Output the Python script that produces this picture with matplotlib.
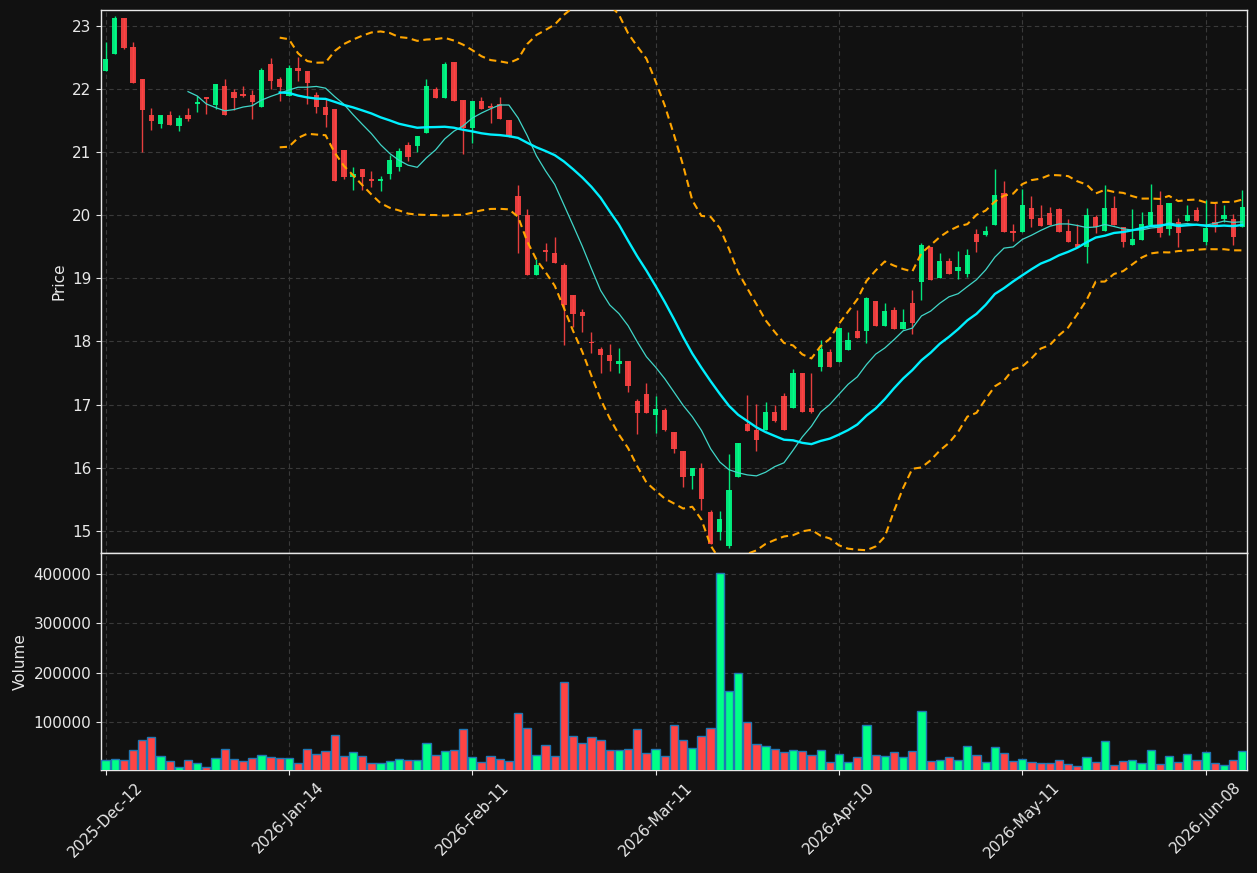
import numpy as np
import pandas as pd
import matplotlib
matplotlib.use("Agg")
import matplotlib.pyplot as plt

# ---------------- data ----------------
opens = [22.29, 22.56, 23.12, 22.67, 22.16, 21.585, 21.44, 21.585, 21.42, 21.59,
         21.77, 21.875, 21.75, 22.05, 21.955, 21.92, 21.90, 21.72, 22.40, 22.16,
         21.89, 22.33, 22.29, 21.91, 21.71, 21.685, 21.035, 20.60, 20.73, 20.575,
         20.54, 20.66, 20.77, 21.11, 21.10, 21.31, 22.00, 21.86, 22.43, 21.83,
         21.39, 21.81, 21.73, 21.76, 21.51, 20.31, 20.00, 19.055, 19.455, 19.40,
         19.21, 18.74, 18.46, 17.99, 17.88, 17.786, 17.648, 17.69, 17.057, 17.168,
         16.835, 16.914, 16.566, 16.265, 15.873, 15.995, 15.30, 14.986, 14.76, 15.857,
         16.693, 16.597, 16.60, 16.883, 17.136, 16.95, 17.50, 16.946, 17.60, 17.83,
         17.68, 17.86, 18.166, 18.166, 18.642, 18.25, 18.50, 18.198, 18.605, 18.948,
         19.49, 19.01, 19.276, 19.117, 19.075, 19.70, 19.69, 19.846, 20.35, 19.75,
         19.74, 20.12, 19.957, 20.04, 20.10, 19.75, 19.545, 19.50, 19.98, 19.756,
         20.116, 19.81, 19.53, 19.608, 19.846, 20.163, 19.79, 19.894, 19.914, 20.084,
         19.58, 19.90, 19.946, 19.936, 19.82]
highs = [22.75, 23.16, 23.13, 22.75, 22.16, 21.70, 21.585, 21.66, 21.585, 21.70,
         21.89, 21.875, 22.08, 22.16, 22.01, 22.05, 21.99, 22.33, 22.49, 22.20,
         22.39, 22.51, 22.29, 21.96, 21.84, 21.685, 21.035, 20.76, 20.73, 20.70,
         20.62, 20.96, 21.06, 21.16, 21.25, 22.155, 22.04, 22.43, 22.43, 21.83,
         21.82, 21.88, 21.775, 21.88, 21.51, 20.48, 20.10, 19.30, 19.56, 19.65,
         19.25, 18.74, 18.51, 18.15, 17.91, 17.96, 17.89, 17.69, 17.084, 17.347,
         17.136, 16.95, 16.566, 16.265, 15.995, 16.07, 15.33, 15.314, 16.217, 16.39,
         17.152, 17.01, 17.04, 16.99, 17.18, 17.56, 17.50, 17.496, 18.02, 17.876,
         18.22, 18.155, 18.50, 18.70, 18.642, 18.605, 18.54, 18.515, 18.816, 19.56,
         19.49, 19.40, 19.33, 19.434, 19.46, 19.79, 19.83, 20.73, 20.55, 19.86,
         20.41, 20.306, 20.16, 20.127, 20.116, 19.936, 19.87, 20.11, 20.00, 20.48,
         20.306, 19.81, 20.095, 20.05, 20.496, 20.38, 20.19, 19.95, 20.17, 20.127,
         20.25, 20.19, 20.16, 20.02, 20.40]
lows = [22.28, 22.55, 22.64, 22.10, 21.00, 21.35, 21.38, 21.43, 21.34, 21.49,
        21.63, 21.60, 21.68, 21.59, 21.67, 21.87, 21.52, 21.72, 22.00, 21.82,
        21.89, 22.13, 21.77, 21.62, 21.40, 20.55, 20.57, 20.40, 20.40, 20.45,
        20.38, 20.58, 20.70, 20.86, 21.00, 21.31, 21.86, 21.86, 21.82, 20.97,
        21.14, 21.68, 21.47, 21.53, 21.24, 19.40, 19.055, 19.055, 19.27, 19.24,
        17.94, 18.23, 18.15, 17.81, 17.50, 17.54, 17.50, 17.205, 16.53, 16.867,
        16.555, 16.58, 16.238, 15.70, 15.667, 15.335, 14.79, 14.85, 14.72, 15.857,
        16.587, 16.27, 16.60, 16.72, 16.60, 16.95, 16.89, 16.86, 17.54, 17.60,
        17.68, 17.86, 18.06, 17.97, 18.25, 18.25, 18.198, 18.198, 18.114, 18.66,
        18.975, 19.01, 19.075, 18.99, 19.017, 19.42, 19.67, 19.846, 19.74, 19.59,
        19.74, 19.82, 19.835, 19.846, 19.74, 19.58, 19.50, 19.25, 19.72, 19.756,
        19.846, 19.50, 19.53, 19.608, 19.846, 19.65, 19.69, 19.50, 19.914, 19.914,
        19.53, 19.74, 19.90, 19.53, 19.82]
closes = [22.48, 23.12, 22.66, 22.10, 21.67, 21.49, 21.585, 21.43, 21.54, 21.53,
          21.80, 21.85, 22.08, 21.59, 21.865, 21.895, 21.80, 22.30, 22.13, 22.03,
          22.33, 22.28, 22.09, 21.71, 21.59, 20.55, 20.60, 20.655, 20.60, 20.55,
          20.575, 20.88, 21.02, 20.93, 21.25, 22.05, 21.86, 22.40, 21.82, 21.39,
          21.81, 21.68, 21.70, 21.53, 21.24, 20.005, 19.055, 19.21, 19.42, 19.24,
          18.58, 18.43, 18.40, 17.97, 17.79, 17.69, 17.69, 17.295, 16.867, 16.867,
          16.93, 16.597, 16.30, 15.857, 15.995, 15.504, 14.79, 15.187, 15.647, 16.39,
          16.587, 16.44, 16.883, 16.745, 16.60, 17.50, 16.89, 16.89, 17.876, 17.60,
          18.21, 18.024, 18.06, 18.69, 18.25, 18.483, 18.198, 18.304, 18.30, 19.53,
          18.975, 19.276, 19.075, 19.185, 19.37, 19.58, 19.75, 20.32, 19.74, 19.72,
          20.163, 19.94, 19.835, 19.846, 19.74, 19.58, 19.50, 20.005, 19.82, 20.116,
          19.846, 19.58, 19.624, 19.862, 20.05, 19.72, 20.19, 19.715, 20.00, 19.914,
          19.794, 19.846, 20.00, 19.66, 20.127]
volumes_k = [23.6, 25.7, 23.6, 43.9, 64.2, 69.6, 31.1, 21.6, 8.8, 23.0,
             16.9, 8.8, 27.0, 45.3, 25.0, 21.6, 27.0, 33.1, 29.1, 27.0,
             27.0, 16.9, 45.3, 35.8, 41.2, 73.6, 31.1, 39.2, 31.1, 16.9,
             16.9, 20.9, 25.0, 23.0, 23.0, 57.4, 33.1, 41.2, 43.2, 85.8,
             29.1, 18.9, 31.1, 25.0, 20.9, 118.0, 87.8, 33.1, 53.4, 31.1,
             181.0, 71.6, 57.4, 69.6, 63.5, 43.2, 43.2, 45.3, 85.8, 37.2,
             45.3, 31.1, 93.9, 63.5, 47.3, 71.6, 87.8, 402.0, 162.8, 199.3,
             100.0, 55.4, 51.4, 45.3, 39.2, 43.2, 41.2, 33.1, 43.2, 18.9,
             35.1, 18.9, 29.1, 93.9, 33.1, 31.1, 39.2, 29.1, 41.2, 122.3,
             20.9, 23.0, 29.1, 23.0, 51.4, 33.1, 18.9, 49.3, 37.2, 20.9,
             25.0, 18.9, 16.9, 16.9, 23.0, 14.9, 10.8, 29.1, 18.9, 61.5,
             12.8, 20.9, 23.0, 16.9, 43.2, 14.9, 31.1, 18.9, 35.1, 23.0,
             39.2, 16.9, 12.8, 23.0, 41.2]
tick_labels = ["2025-Dec-12", "2026-Jan-14", "2026-Feb-11", "2026-Mar-11",
               "2026-Apr-10", "2026-May-11", "2026-Jun-08"]

# ---------------- style ----------------
BG = "#111111"
UP = "#00ff88"
DOWN = "#ff4444"
TXT = "#e8e8e8"
GRID = "#3a3a3a"

o = np.array(opens); h = np.array(highs); l = np.array(lows); c = np.array(closes)
v = np.array(volumes_k) * 1000.0
n = len(c)
x = np.arange(n)
up = c >= o
cols = np.where(up, UP, DOWN)

close_s = pd.Series(c)
mav10 = close_s.rolling(10).mean()
mav20 = close_s.rolling(20).mean()
std20 = close_s.rolling(20).std()
bb_up = mav20 + 2 * std20
bb_dn = mav20 - 2 * std20

fig = plt.figure(figsize=(12.57, 8.73), dpi=100, facecolor=BG)
ax = fig.add_axes([0.0803, 0.3666, 0.9117, 0.6219], facecolor=BG)
axv = fig.add_axes([0.0803, 0.1180, 0.9117, 0.2486], facecolor=BG, sharex=ax)

# candles
ax.vlines(x, l, h, colors=cols, linewidth=1.0, alpha=0.9, zorder=2)
body_bot = np.minimum(o, c)
body_h = np.maximum(np.abs(c - o), 0.012)
ax.bar(x, body_h, bottom=body_bot, width=0.58, color=cols, alpha=0.9,
       linewidth=0, zorder=3)

# moving averages & bands
ax.plot(x, mav10, color="#40d6c8", linewidth=0.9, zorder=4)
ax.plot(x, mav20, color="#00f0ff", linewidth=1.7, zorder=4)
ax.plot(x, bb_up, color="#ffa500", linewidth=1.5, linestyle=(0, (3.5, 2.2)), zorder=4)
ax.plot(x, bb_dn, color="#ffa500", linewidth=1.5, linestyle=(0, (3.5, 2.2)), zorder=4)

# volume
axv.bar(x, v, width=0.9, color=cols, edgecolor="#1f77b4", linewidth=1.0, zorder=3)

ax.set_xlim(-0.5, n - 0.5)
ax.set_ylim(14.648, 23.254)
axv.set_ylim(0.3 * v.min(), 1.1 * v.max())

ticks = list(range(0, n, 20))
axv.set_xticks(ticks)
axv.set_xticklabels(tick_labels, rotation=45, ha="center")
plt.setp(ax.get_xticklabels(), visible=False)
ax.tick_params(axis="x", length=0)

ax.set_yticks(range(15, 24))
axv.set_yticks([100000, 200000, 300000, 400000])
axv.set_yticklabels(["100000", "200000", "300000", "400000"])

ax.set_ylabel("Price", color=TXT, fontsize=11)
axv.set_ylabel("Volume", color=TXT, fontsize=11)

for a in (ax, axv):
    a.grid(True, color=GRID, linestyle=(0, (4, 3)), linewidth=0.8)
    a.set_axisbelow(True)
    for s in a.spines.values():
        s.set_color(TXT)
        s.set_linewidth(1.0)
    a.tick_params(colors=TXT, labelcolor=TXT, labelsize=11)

fig.savefig("out.png", dpi=100, facecolor=BG)
